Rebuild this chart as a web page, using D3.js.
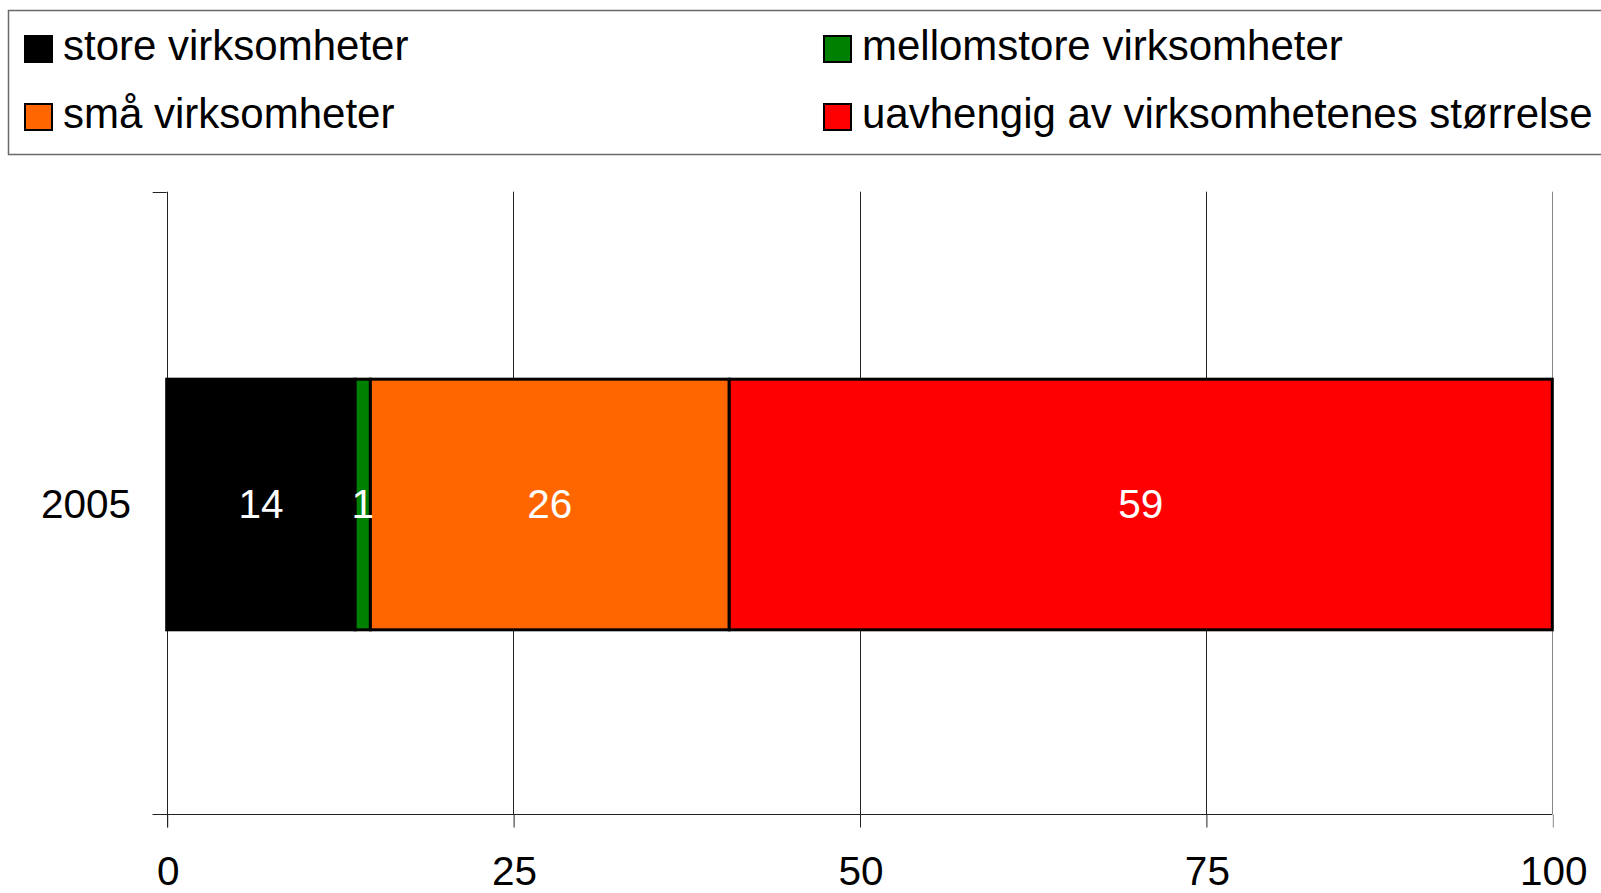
<!DOCTYPE html>
<html>
<head>
<meta charset="utf-8">
<script src="https://cdn.jsdelivr.net/npm/d3@7/dist/d3.min.js"></script>
<style>
  html, body { margin: 0; padding: 0; background: #fff; }
  svg { display: block; font-family: "Liberation Sans", Arial, sans-serif; }
</style>
</head>
<body>
<svg id="chart" width="1601" height="893"></svg>
<script>
// ---- data ----
const categories = ["2005"];
const seriesNames = ["store virksomheter", "mellomstore virksomheter", "små virksomheter", "uavhengig av virksomhetenes størrelse"];
const seriesColors = ["#000000", "#008000", "#ff6600", "#ff0000"];
const values2005 = [13.6, 1.1, 25.9, 59.4];
const xTicks = [0, 25, 50, 75, 100];

// ---- layout ----
const W = 1601, H = 893;
const plot = { left: 166.7, right: 1552.3, top: 191.7, bottom: 814.3 };
const svg = d3.select("#chart");

const x = d3.scaleLinear().domain([0, 100]).range([plot.left, plot.right]);
const y = d3.scaleBand().domain(categories).range([plot.top + 3, plot.bottom]).padding(0.424);

// stacked data
const rows = categories.map(c => {
  const o = { cat: c };
  seriesNames.forEach((s, i) => { o[s] = values2005[i]; });
  return o;
});
const stacked = d3.stack().keys(seriesNames)(rows);

// gridlines
svg.append("g").selectAll("line")
  .data(xTicks.filter(t => t > 0))
  .join("line")
  .attr("x1", d => Math.round(x(d)) + 0.5).attr("x2", d => Math.round(x(d)) + 0.5)
  .attr("y1", plot.top).attr("y2", plot.bottom)
  .attr("stroke", d => d === 100 ? "#888" : "#222")
  .attr("stroke-width", 1);

// x axis
const xAxis = d3.axisBottom(x).tickValues(xTicks).tickSize(13).tickPadding(0).tickFormat(d3.format("d"));
const gx = svg.append("g").attr("transform", `translate(0,${Math.round(plot.bottom) + 0.5})`).call(xAxis);
gx.select(".domain").remove();
gx.selectAll(".tick line").attr("stroke", d => d === 100 ? "#888" : "#222").attr("transform", "translate(0.5,0)");
gx.selectAll(".tick text").attr("font-size", 40.5).attr("fill", "#000").attr("dy", null).attr("y", 70).attr("x", 1)
  .attr("font-family", '"Liberation Sans", Arial, sans-serif');
// x baseline incl. left tick
svg.append("line")
  .attr("x1", plot.left - 14).attr("x2", plot.right)
  .attr("y1", Math.round(plot.bottom) + 0.5).attr("y2", Math.round(plot.bottom) + 0.5)
  .attr("stroke", "#222").attr("stroke-width", 1);

// y axis
const yEdges = [plot.top, plot.bottom];
svg.append("line")
  .attr("x1", Math.round(plot.left) + 0.5).attr("x2", Math.round(plot.left) + 0.5)
  .attr("y1", plot.top).attr("y2", plot.bottom + 13)
  .attr("stroke", "#222").attr("stroke-width", 1);
svg.append("g").selectAll("line").data(yEdges).join("line")
  .attr("x1", plot.left - 14).attr("x2", plot.left)
  .attr("y1", d => Math.round(d) + 0.5).attr("y2", d => Math.round(d) + 0.5)
  .attr("stroke", "#222").attr("stroke-width", 1);
svg.append("g").selectAll("text").data(categories).join("text")
  .attr("x", 131).attr("y", d => y(d) + y.bandwidth() / 2 + 13)
  .attr("text-anchor", "end").attr("font-size", 40.5).attr("fill", "#000")
  .text(d => d);

// bars
const layers = svg.append("g").selectAll("g").data(stacked).join("g")
  .attr("fill", (d, i) => seriesColors[i]);
layers.selectAll("rect").data(d => d).join("rect")
  .attr("x", d => x(d[0]))
  .attr("width", d => x(d[1]) - x(d[0]))
  .attr("y", d => y(d.data.cat))
  .attr("height", y.bandwidth())
  .attr("stroke", "#000").attr("stroke-width", 3);

// value labels
const fmt = d3.format(".0f");
const labelG = svg.append("g");
stacked.forEach((layer, i) => {
  labelG.selectAll(null).data(layer).join("text")
    .attr("x", d => (x(d[0]) + x(d[1])) / 2)
    .attr("y", d => y(d.data.cat) + y.bandwidth() / 2 + 13)
    .attr("text-anchor", "middle").attr("font-size", 40.5).attr("fill", "#fff")
    .text(d => fmt(d[1] - d[0]));
});

// legend
const legend = svg.append("g");
legend.append("rect")
  .attr("x", 8.5).attr("y", 10.5).attr("width", 1620).attr("height", 144)
  .attr("fill", "#fff").attr("stroke", "#6a6a6a").attr("stroke-width", 1.5);
const colX = [24, 823], rowY = [35, 103];
const items = legend.selectAll("g.item").data(seriesNames).join("g")
  .attr("class", "item")
  .attr("transform", (d, i) => `translate(${colX[i % 2]},${rowY[Math.floor(i / 2)]})`);
items.append("rect")
  .attr("x", 1).attr("y", 1).attr("width", 27).attr("height", 26)
  .attr("fill", (d, i) => seriesColors[i]).attr("stroke", "#000").attr("stroke-width", 2);
items.append("text")
  .attr("x", 39).attr("y", 25)
  .attr("font-size", 42).attr("fill", "#000")
  .text(d => d);
</script>
</body>
</html>
